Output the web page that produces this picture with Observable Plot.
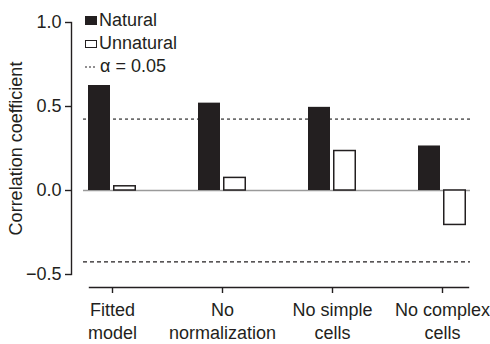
<!DOCTYPE html>
<html><head><meta charset="utf-8">
<script src="https://cdn.jsdelivr.net/npm/d3@7"></script>
<script src="https://cdn.jsdelivr.net/npm/@observablehq/plot@0.6"></script>
<style>
body{margin:0;background:#fff;}
#chart{position:relative;width:490px;height:344px;font-family:"Liberation Sans",Arial,sans-serif;color:#231f20;}
#legend{position:absolute;left:85px;top:9px;font-size:18px;line-height:23px;}
.row{display:flex;align-items:center;height:23px;white-space:nowrap;}
.sw{width:12px;height:9px;margin-right:2px;box-sizing:border-box;flex:none;}
</style></head>
<body><div id="chart"></div>
<script>
const groups = ["Fitted\nmodel", "No\nnormalization", "No simple\ncells", "No complex\ncells"];
const seriesNames = ["Natural", "Unnatural"];
const natural = [0.625, 0.52, 0.495, 0.265];
const unnatural = [0.025, 0.075, 0.235, -0.205];
const yTicks = [-0.5, 0, 0.5, 1.0];
const alphaLevel = [0.425, -0.425];
const alphaLabel = "α = 0.05";

const ink = "#231f20";
const rows = groups.map((g, i) => ({group: g, natural: natural[i], unnatural: unnatural[i]}));

const plot = Plot.plot({
  width: 490, height: 344,
  marginLeft: 71, marginRight: 20, marginTop: 22, marginBottom: 70,
  style: {fontFamily: "Liberation Sans, Arial, sans-serif", fontSize: "18px", color: ink, background: "#fff"},
  x: {domain: groups, paddingInner: 0.5636, paddingOuter: 0.0954, align: 0.83, label: null},
  y: {domain: [-0.5, 1.0], label: null},
  marks: [
    Plot.ruleY([0], {stroke: "#9a9a9a", strokeWidth: 1.3, insetLeft: 12}),
    Plot.ruleY([alphaLevel[0]], {stroke: "#6e6e6e", strokeWidth: 1.6, strokeDasharray: "3,3", insetLeft: 12}),
    Plot.ruleY([alphaLevel[1]], {stroke: ink, strokeWidth: 1.2, strokeDasharray: "4,3", insetLeft: 12}),
    Plot.barY(rows, {x: "group", y: "natural", fill: ink, insetRight: 26}),
    Plot.barY(rows, {x: "group", y: "unnatural", fill: "#fff", stroke: ink, strokeWidth: 1.5, insetLeft: 25.75, insetRight: 0.75}),
    Plot.frame({anchor: "left", stroke: ink, strokeWidth: 1.4}),
    Plot.axisY({ticks: yTicks, tickFormat: d3.format(".1f"), tickSize: 6, tickPadding: 4, stroke: ink, strokeWidth: 1.4,
      label: "Correlation coefficient", labelAnchor: "center", labelOffset: 62, labelArrow: "none"}),
    Plot.frame({anchor: "bottom", dy: 13, insetLeft: 18, insetRight: 2, stroke: ink, strokeWidth: 1.4}),
    Plot.axisX({dy: 13, tickSize: 6, tickPadding: 7, lineHeight: 1.25, stroke: ink, strokeWidth: 1.4, label: null})
  ]
});

const chart = document.getElementById("chart");
chart.appendChild(plot);

const legend = document.createElement("div");
legend.id = "legend";
legend.innerHTML =
  `<div class="row"><span class="sw" style="background:${ink}"></span><span>${seriesNames[0]}</span></div>` +
  `<div class="row"><span class="sw" style="background:#fff;border:1px solid ${ink};height:8px"></span><span>${seriesNames[1]}</span></div>` +
  `<div class="row"><svg width="12" height="8" style="margin-right:3px;flex:none"><line x1="0" x2="12" y1="4" y2="4" stroke="${ink}" stroke-width="1" stroke-dasharray="2,2"/></svg><span>${alphaLabel}</span></div>`;
chart.appendChild(legend);
</script>
</body></html>
